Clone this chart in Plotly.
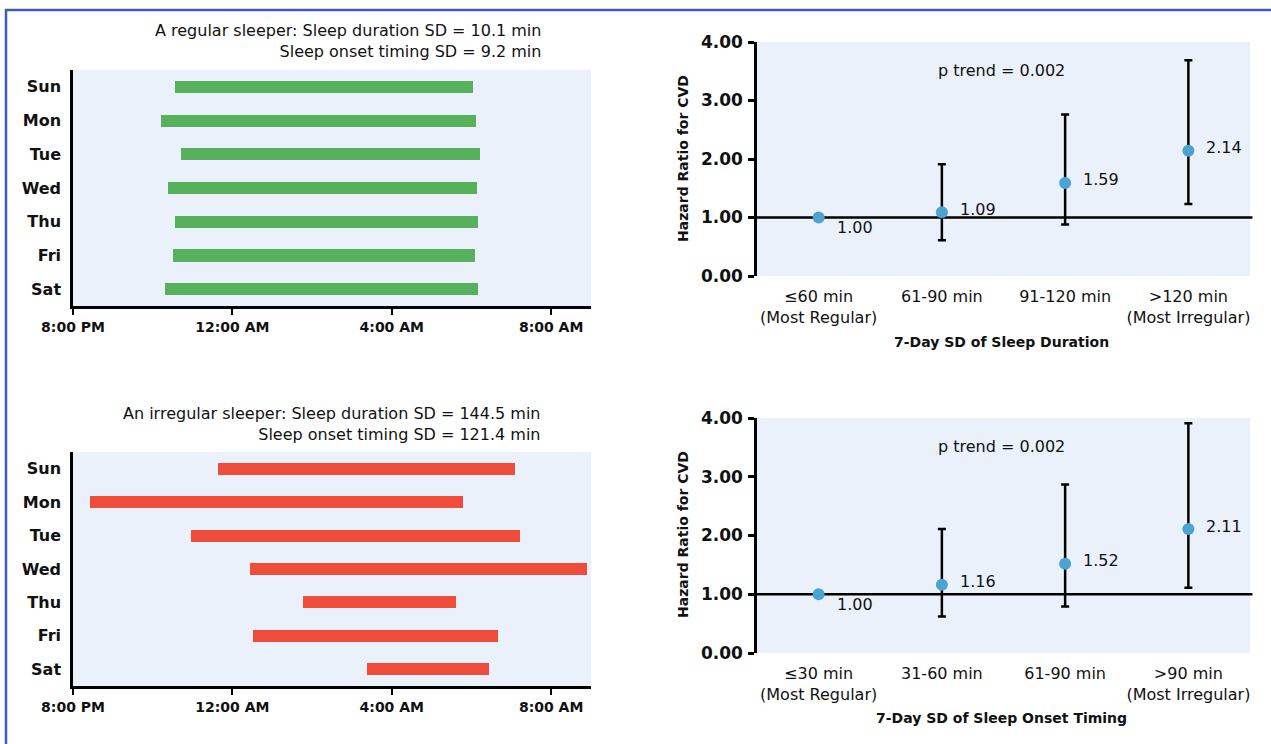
import plotly.graph_objects as go

# ---------------- data ----------------
days = ["Sun", "Mon", "Tue", "Wed", "Thu", "Fri", "Sat"]
# clock hours (values above 24 are after midnight)
reg_onset = [22.57, 22.22, 22.70, 22.38, 22.57, 22.52, 22.31]
reg_wake = [30.04, 30.11, 30.22, 30.14, 30.17, 30.10, 30.17]
irr_onset = [23.64, 20.43, 22.97, 24.44, 25.78, 24.52, 27.38]
irr_wake = [31.08, 29.78, 31.22, 32.91, 29.61, 30.66, 30.45]

time_ticks = [20, 24, 28, 32]
time_labels = ["8:00 PM", "12:00 AM", "4:00 AM", "8:00 AM"]

dur_cats = ["≤60 min<br>(Most Regular)", "61-90 min", "91-120 min", ">120 min<br>(Most Irregular)"]
dur_hr = [1.00, 1.09, 1.59, 2.14]
dur_lo = [1.00, 0.61, 0.88, 1.23]
dur_hi = [1.00, 1.91, 2.76, 3.69]

ons_cats = ["≤30 min<br>(Most Regular)", "31-60 min", "61-90 min", ">90 min<br>(Most Irregular)"]
ons_hr = [1.00, 1.16, 1.52, 2.11]
ons_lo = [1.00, 0.62, 0.79, 1.11]
ons_hi = [1.00, 2.11, 2.87, 3.91]

hr_ticks = [0, 1, 2, 3, 4]
hr_labels = ["0.00", "1.00", "2.00", "3.00", "4.00"]

# ---------------- style ----------------
W, H = 1271, 744
FONT = "DejaVu Sans"
TXT = "#111111"
BG = "#eaf1fa"
GREEN = "#57b05c"
RED = "#f04c3b"
BLUE = "#4ba3d2"


def px_x(a, b):
    return [a / W, b / W]


def px_y(top, bottom):
    return [1 - bottom / H, 1 - top / H]


fig = go.Figure()

# ---- sleep bar panels ----
for on, wk, col, ax in [(reg_onset, reg_wake, GREEN, ""), (irr_onset, irr_wake, RED, "2")]:
    fig.add_trace(go.Bar(
        y=days, x=[w - o for o, w in zip(on, wk)], base=on, orientation="h",
        marker=dict(color=col, line=dict(width=0)), width=0.36,
        xaxis="x" + ax, yaxis="y" + ax, showlegend=False, hoverinfo="skip"))

# ---- hazard ratio panels ----
for cats, hr, lo, hi, ax in [(dur_cats, dur_hr, dur_lo, dur_hi, "3"), (ons_cats, ons_hr, ons_lo, ons_hi, "4")]:
    fig.add_shape(type="line", xref="x" + ax + " domain", yref="y" + ax,
                  x0=0, x1=1.005, y0=1, y1=1, line=dict(color="black", width=2.5), layer="below")
    fig.add_trace(go.Scatter(
        x=cats, y=hr, mode="markers",
        marker=dict(color=BLUE, size=12),
        error_y=dict(type="data", symmetric=False,
                     array=[h - v for h, v in zip(hi, hr)],
                     arrayminus=[v - l for v, l in zip(hr, lo)],
                     color="black", thickness=2.5, width=4),
        xaxis="x" + ax, yaxis="y" + ax, showlegend=False, hoverinfo="skip"))
    for j, (c, v) in enumerate(zip(cats, hr)):
        fig.add_annotation(x=c, y=v, xref="x" + ax, yref="y" + ax, text=f"{v:.2f}",
                           showarrow=False, xanchor="left", yanchor="middle",
                           xshift=16, yshift=(-10 if j == 0 else 3),
                           font=dict(family=FONT, size=16, color=TXT))
    fig.add_annotation(x=0.495, y=3.52, xref="x" + ax + " domain", yref="y" + ax,
                       xanchor="center", yanchor="middle",
                       text="p trend = 0.002", showarrow=False,
                       font=dict(family=FONT, size=16, color=TXT))

left_x = px_x(73, 591)
right_x = px_x(757, 1250)

time_axis = dict(range=[20, 33], tickvals=time_ticks, ticktext=time_labels,
                 showline=True, linecolor="black", linewidth=3, ticks="outside",
                 ticklen=6, tickwidth=2, tickcolor="black", showgrid=False, zeroline=False,
                 tickfont=dict(family=FONT, size=14, color=TXT, weight="bold"), fixedrange=True,
                 automargin=False, ticklabelstandoff=0)
day_axis = dict(range=[6.5, -0.5], showline=True, linecolor="black", linewidth=2.5,
                ticks="", showgrid=False, zeroline=False, ticklabelstandoff=6,
                tickfont=dict(family=FONT, size=16, color=TXT, weight="bold"), fixedrange=True,
                automargin=False)
hr_axis = dict(range=[0, 4], tickvals=hr_ticks, ticktext=hr_labels,
               showline=True, linecolor="black", linewidth=2.5, ticks="outside",
               ticklen=6, tickwidth=2.5, tickcolor="black", showgrid=False, zeroline=False,
               tickfont=dict(family=FONT, size=17, color=TXT, weight="bold"), ticklabelstandoff=2,
               automargin=False, fixedrange=True)
cat_axis = dict(range=[-0.5, 3.5], showline=False, ticks="", showgrid=False, zeroline=False,
                tickfont=dict(family=FONT, size=16, color=TXT), ticklabelstandoff=9,
                automargin=False, fixedrange=True)

fig.update_layout(
    width=W, height=H, margin=dict(l=0, r=0, t=0, b=0, autoexpand=False),
    paper_bgcolor="white", plot_bgcolor=BG, bargap=0,
    xaxis=dict(domain=left_x, anchor="y", **time_axis),
    yaxis=dict(domain=px_y(70, 306), anchor="x", **day_axis),
    xaxis2=dict(domain=left_x, anchor="y2", **time_axis),
    yaxis2=dict(domain=px_y(452, 686), anchor="x2", **day_axis),
    xaxis3=dict(domain=right_x, anchor="y3", **cat_axis),
    yaxis3=dict(domain=px_y(42, 276), anchor="x3", **hr_axis),
    xaxis4=dict(domain=right_x, anchor="y4", **cat_axis),
    yaxis4=dict(domain=px_y(418, 653), anchor="x4", **hr_axis),
)

# panel titles
fig.add_annotation(x=543 / W, y=1 - 41 / H, xref="paper", yref="paper", xanchor="right", yanchor="middle",
                   align="right", showarrow=False,
                   text="A regular sleeper: Sleep duration SD = 10.1 min<br>Sleep onset timing SD = 9.2 min",
                   font=dict(family=FONT, size=16, color=TXT))
fig.add_annotation(x=543 / W, y=1 - 423.5 / H, xref="paper", yref="paper", xanchor="right", yanchor="middle",
                   align="right", showarrow=False,
                   text="An irregular sleeper: Sleep duration SD = 144.5 min<br>Sleep onset timing SD = 121.4 min",
                   font=dict(family=FONT, size=16, color=TXT))

# axis titles for hazard panels
for yc, xt, yt in [(159, "7-Day SD of Sleep Duration", 342), (535, "7-Day SD of Sleep Onset Timing", 718)]:
    fig.add_annotation(x=683 / W, y=1 - yc / H, xref="paper", yref="paper", textangle=-90,
                       xanchor="center", yanchor="middle",
                       showarrow=False, text="<b>Hazard Ratio for CVD</b>",
                       font=dict(family=FONT, size=14, color=TXT))
    fig.add_annotation(x=1001 / W, y=1 - yt / H, xref="paper", yref="paper",
                       xanchor="center", yanchor="middle",
                       showarrow=False, text=f"<b>{xt}</b>",
                       font=dict(family=FONT, size=14, color=TXT))

# frame
fig.add_shape(type="rect", xref="paper", yref="paper", x0=6 / W, x1=1.02, y0=-0.02, y1=1 - 10 / H,
              line=dict(color="#3b5db3", width=2.5), layer="above")

fig.write_html("out.html", config={"displayModeBar": False},
               post_script="document.body.style.margin='0';")
